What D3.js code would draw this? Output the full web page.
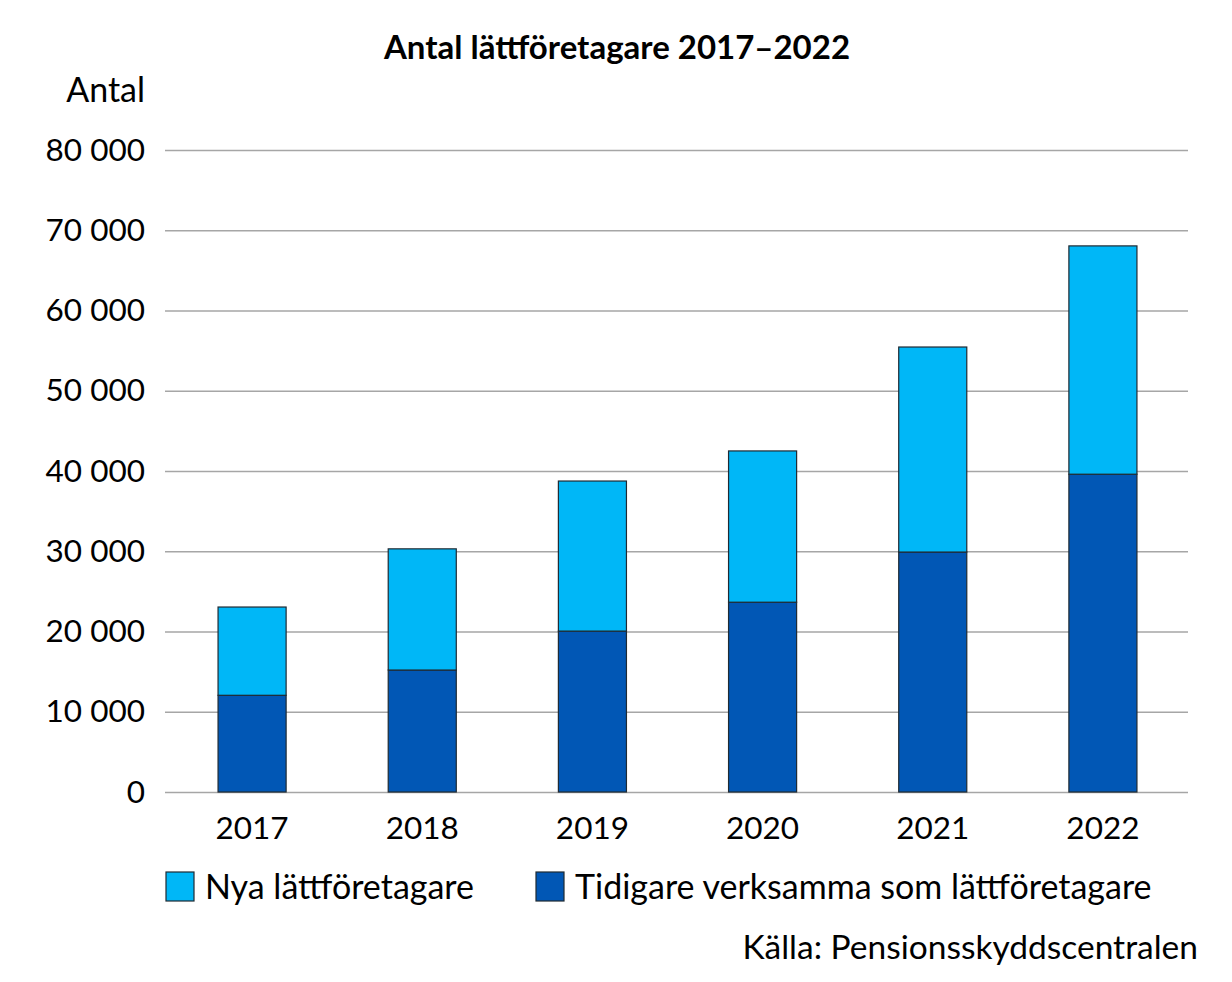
<!DOCTYPE html>
<html>
<head>
<meta charset="utf-8">
<script src="https://cdn.jsdelivr.net/npm/d3@7"></script>
<style>
  body { margin: 0; background: #fff; }
  text { font-family: Lato, "Open Sans", sans-serif; fill: #000; }
</style>
</head>
<body>
<div id="chart"></div>
<script>
// data
var years = ["2017", "2018", "2019", "2020", "2021", "2022"];
var tidigare = [12050, 15200, 20050, 23650, 29900, 39600];
var nya = [11000, 15100, 18700, 18850, 25550, 28450];
var yTicks = [0, 10000, 20000, 30000, 40000, 50000, 60000, 70000, 80000];
var seriesNames = ["Nya lättföretagare", "Tidigare verksamma som lättföretagare"];

var W = 1232, H = 982;
var margin = { top: 150, right: 44, bottom: 190, left: 165 };
var width = W - margin.left - margin.right;
var height = H - margin.top - margin.bottom;

var lightBlue = "#00b7f7";
var darkBlue = "#0157b5";

var rows = years.map(function(y, i) {
    return { year: y, tidigare: tidigare[i], nya: nya[i] };
});
var stack = d3.stack().keys(["tidigare", "nya"])(rows);
var colors = { tidigare: darkBlue, nya: lightBlue };

var svg = d3.select("#chart")
    .append("svg")
    .attr("width", W)
    .attr("height", H);

var g = svg.append("g")
    .attr("transform", "translate(" + margin.left + "," + margin.top + ")");

var x = d3.scaleBand()
    .domain(years)
    .range([2, width])
    .paddingInner(0.6)
    .paddingOuter(0.3);

var y = d3.scaleLinear()
    .domain([0, 80000])
    .range([height, 0]);

var fmt = function(d) {
    return d3.format(",")(d).replace(/,/g, " ");
};

// gridlines + y labels
var yAxis = g.append("g")
    .call(d3.axisLeft(y).tickValues(yTicks).tickSize(-width).tickPadding(20).tickFormat(fmt));
yAxis.select(".domain").remove();
yAxis.selectAll(".tick line")
    .attr("stroke", "#a6a6a6")
    .attr("stroke-width", 1.3);
yAxis.selectAll(".tick text")
    .style("font-size", "31.5px")
    .style("font-family", "Lato, sans-serif")
    .attr("fill", "#000");

// x labels
var xAxis = g.append("g")
    .attr("transform", "translate(0," + height + ")")
    .call(d3.axisBottom(x).tickSize(0).tickPadding(25));
xAxis.select(".domain").remove();
xAxis.selectAll(".tick text")
    .style("font-size", "31.5px")
    .style("font-family", "Lato, sans-serif")
    .attr("fill", "#000");

// bars
g.selectAll(".layer")
    .data(stack)
    .enter()
    .append("g")
    .attr("class", "layer")
    .attr("fill", function(d) { return colors[d.key]; })
    .selectAll("rect")
    .data(function(d) { return d; })
    .enter()
    .append("rect")
    .attr("x", function(d) { return x(d.data.year); })
    .attr("y", function(d) { return y(d[1]); })
    .attr("width", x.bandwidth())
    .attr("height", function(d) { return y(d[0]) - y(d[1]); })
    .attr("stroke", "#1f2a33")
    .attr("stroke-width", 1.2);

// title
svg.append("text")
    .attr("x", 617)
    .attr("y", 59)
    .attr("text-anchor", "middle")
    .style("font-size", "33px")
    .style("font-weight", "bold")
    .text("Antal lättföretagare 2017–2022");

svg.append("text")
    .attr("x", 145)
    .attr("y", 102)
    .attr("text-anchor", "end")
    .style("font-size", "34px")
    .text("Antal");

// legend
var legendItems = [
    { name: seriesNames[0], color: lightBlue, x: 166 },
    { name: seriesNames[1], color: darkBlue, x: 536 }
];
var legend = svg.selectAll(".legend")
    .data(legendItems)
    .enter()
    .append("g")
    .attr("class", "legend")
    .attr("transform", function(d) { return "translate(" + d.x + ",872)"; });
legend.append("rect")
    .attr("width", 28)
    .attr("height", 29)
    .attr("fill", function(d) { return d.color; })
    .attr("stroke", "#1f2a33")
    .attr("stroke-width", 1.2);
legend.append("text")
    .attr("x", 39)
    .attr("y", 27)
    .style("font-size", "34px")
    .text(function(d) { return d.name; });

svg.append("text")
    .attr("x", 1198)
    .attr("y", 959)
    .attr("text-anchor", "end")
    .style("font-size", "33.5px")
    .text("Källa: Pensionsskyddscentralen");
</script>
</body>
</html>
